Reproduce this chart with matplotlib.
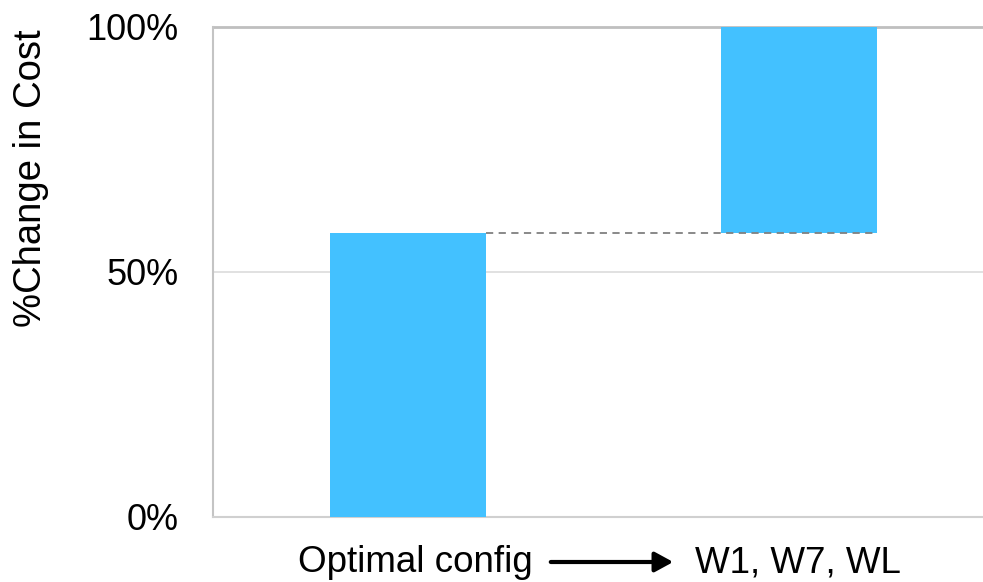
import matplotlib as mpl
mpl.use('Agg')
import matplotlib.pyplot as plt
from matplotlib.ticker import FuncFormatter

plt.rcParams['font.family'] = ['Liberation Sans', 'DejaVu Sans']

# waterfall: optimal config, then step up to W1/W7/WL
steps = ["Optimal config", "W1, W7, WL"]
start = [0, 58]
change = [58, 42]
yticks = [0, 50, 100]

W, H = 983, 582
fig = plt.figure(figsize=(W / 100, H / 100), dpi=100)
# axes runs a bit past the right edge like the original
ax = fig.add_axes([213 / W, 1 - 517 / H, (994 - 213) / W, (517 - 27) / H])

x = list(range(len(steps)))
ax.bar(x, change, bottom=start, width=0.4, color="#43C1FF", zorder=3)

# connector between bar tops
top1 = start[0] + change[0]
ax.plot([x[0] + 0.2, x[1] + 0.2], [top1, top1], color="#808080",
        lw=1.3, ls=(0, (4, 3)), zorder=4)

ax.set_xlim(-0.5, 1.5)
ax.set_ylim(0, 100)
ax.set_yticks(yticks)
ax.yaxis.set_major_formatter(FuncFormatter(lambda v, p: f"{v:.0f}%"))
ax.tick_params(axis='y', length=0, pad=25, labelsize=26)
ax.set_xticks([])

ax.axhline(50, color="#DCDCDC", lw=1.2, zorder=1)
ax.axhline(100, color="#BFBFBF", lw=2, zorder=2, clip_on=False)
for s in ["top", "right"]:
    ax.spines[s].set_visible(False)
ax.spines["left"].set_color("#C4C4C4")
ax.spines["left"].set_linewidth(1.5)
ax.spines["bottom"].set_color("#D0D0D0")
ax.spines["bottom"].set_linewidth(1.5)

fig.text(31 / W, 1 - 178 / H, "%Change in Cost", rotation=90,
         ha="center", va="center", fontsize=27.5)

# x label with arrow
fig.text(533 / W, 1 - 563 / H, steps[0], ha="right", va="center", fontsize=26.5)
fig.text(695 / W, 1 - 563 / H, steps[1], ha="left", va="center", fontsize=26.5)
fig.add_artist(mpl.patches.FancyArrowPatch(
    (548 / W, 1 - 562 / H), (676 / W, 1 - 562 / H),
    transform=fig.transFigure, arrowstyle="-|>,head_length=11,head_width=6",
    mutation_scale=1, lw=3, color="black"))

plt.savefig("out.png", dpi=100)
